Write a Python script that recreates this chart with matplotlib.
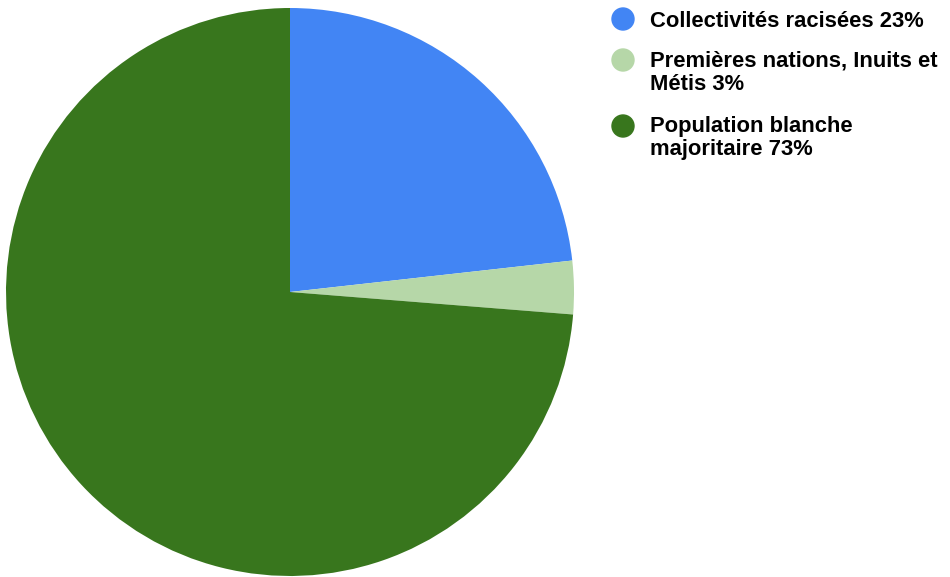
import matplotlib.pyplot as plt
from matplotlib.patches import Ellipse

labels = ['Collectivités racisées 23%',
          'Premières nations, Inuits et\nMétis 3%',
          'Population blanche\nmajoritaire 73%']
values = [23, 3, 73]
colors = ['#4285F4', '#B6D7A8', '#38761D']

W, H = 950, 577
fig = plt.figure(figsize=(W / 100, H / 100), dpi=100)
plt.rcParams['font.family'] = ['Liberation Sans', 'DejaVu Sans']

# pie centred at (290, 292) px with radius 284 px
cx, cy, r = 290, 292, 284
ax = fig.add_axes([(cx - r) / W, (H - cy - r) / H, 2 * r / W, 2 * r / H])
ax.pie(values, colors=colors, startangle=90, counterclock=False,
       radius=1, wedgeprops=dict(linewidth=0))
ax.set_xlim(-1, 1)
ax.set_ylim(-1, 1)
ax.set_aspect('equal')
ax.axis('off')

# legend drawn by hand: marker centre y and first baseline y in pixels
marker_y = [19, 60, 126]
base_y = [27, 67, 132]
for lab, c, my, by in zip(labels, colors, marker_y, base_y):
    fig.add_artist(Ellipse((623 / W, 1 - my / H), 22 / W, 22 / H, color=c,
                           transform=fig.transFigure))
    for i, line in enumerate(lab.split('\n')):
        fig.text(650 / W, 1 - (by + 23 * i) / H, line, fontsize=15.8,
                 fontweight='bold', va='baseline', ha='left')

fig.savefig('out.png', dpi=100)
